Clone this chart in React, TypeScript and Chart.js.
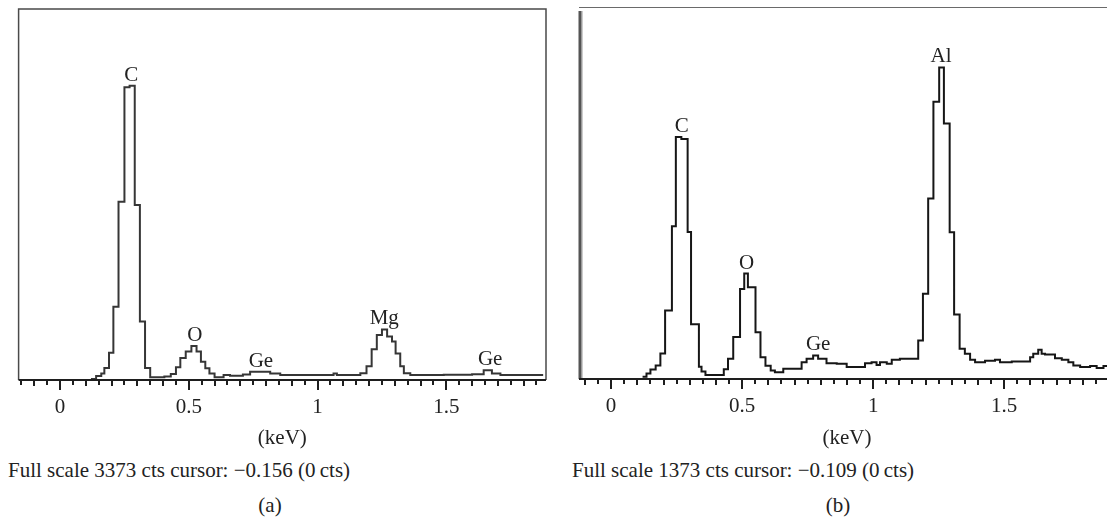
import React, { useEffect, useRef } from 'react';
import { Chart, registerables } from 'chart.js';

Chart.register(...registerables);

const FONT = '"Liberation Serif", "Times New Roman", serif';
const TEXT = '#222';
const FS = 21;

// Panel (a): energy (keV) where each step starts, counts of that step
const energiesA = [
  0.12, 0.14, 0.16, 0.172, 0.19, 0.207, 0.227, 0.25, 0.27, 0.29, 0.31, 0.33, 0.35, 0.405,
  0.43, 0.45, 0.467, 0.488, 0.51, 0.53, 0.547, 0.564, 0.58, 0.6, 0.635, 0.66, 0.71, 0.738,
  0.816, 0.855, 1.062, 1.075, 1.166, 1.19, 1.21, 1.23, 1.25, 1.27, 1.289, 1.303, 1.321,
  1.335, 1.36, 1.49, 1.6, 1.645, 1.677, 1.71, 1.876,
];
const countsA = [
  10, 36, 60, 108, 248, 667, 1620, 2662, 2675, 1592, 532, 110, 26, 32,
  55, 115, 200, 260, 310, 260, 167, 106, 58, 24, 45, 38, 50, 75,
  60, 45, 58, 45, 62, 125, 280, 410, 460, 395, 350, 240, 125,
  62, 45, 48, 52, 88, 60, 45, 45,
];

// Panel (b)
const energiesB = [
  0.12, 0.135, 0.15, 0.17, 0.188, 0.206, 0.232, 0.247, 0.268, 0.292, 0.305, 0.335, 0.345,
  0.36, 0.43, 0.446, 0.466, 0.492, 0.508, 0.522, 0.551, 0.57, 0.589, 0.609, 0.625, 0.657,
  0.727, 0.746, 0.771, 0.79, 0.822, 0.861, 0.899, 0.969, 0.994, 1.013, 1.026, 1.052, 1.071,
  1.102, 1.172, 1.19, 1.21, 1.23, 1.252, 1.27, 1.292, 1.309, 1.33, 1.35, 1.37, 1.389, 1.427,
  1.465, 1.484, 1.529, 1.599, 1.611, 1.63, 1.643, 1.656, 1.694, 1.72, 1.745, 1.764, 1.79,
  1.828, 1.853, 1.879, 1.93,
];
const countsB = [
  8, 20, 35, 50, 94, 253, 564, 893, 886, 543, 202, 45, 28,
  15, 36, 75, 155, 332, 389, 339, 173, 80, 49, 31, 25, 38,
  62, 75, 87, 75, 58, 56, 44, 58, 62, 52, 62, 56, 71,
  75, 142, 315, 666, 1023, 1150, 943, 542, 238, 112, 93, 71, 62, 67,
  71, 62, 65, 80, 93, 108, 93, 90, 77, 71, 62, 50, 44,
  48, 41, 48, 48,
];

const fullScaleA = 3373;
const fullScaleB = 1373;

const tickValues = [0, 0.5, 1, 1.5];
const tickLabels = ['0', '0.5', '1', '1.5'];

const peakLabelsA = ['C', 'O', 'Ge', 'Mg', 'Ge'];
const peakEnergiesA = [0.276, 0.523, 0.78, 1.259, 1.67];
const peakLabelsB = ['C', 'O', 'Ge', 'Al'];
const peakEnergiesB = [0.27, 0.517, 0.79, 1.259];

type Area = { left: number; top: number; right: number; bottom: number };

type PanelProps = {
  energies: number[];
  counts: number[];
  fullScale: number;
  xMin: number;
  xMax: number;
  labels: string[];
  labelEnergies: number[];
  frame: 'box' | 'open';
  lineColor: string;
  left: number;
  width: number;
  height: number;
  area: Area;
};

function Panel(p: PanelProps) {
  const ref = useRef<HTMLCanvasElement | null>(null);

  useEffect(() => {
    const canvas = ref.current;
    if (!canvas) return;

    const framePlugin = {
      id: 'specFrame',
      beforeDatasetsDraw(chart: any) {
        const { ctx, chartArea: a } = chart;
        ctx.save();
        if (p.frame === 'box') {
          ctx.strokeStyle = '#4a4a4a';
          ctx.lineWidth = 1.5;
          ctx.beginPath();
          ctx.moveTo(a.left, a.bottom);
          ctx.lineTo(a.left, a.top);
          ctx.lineTo(a.right, a.top);
          ctx.lineTo(a.right, a.bottom);
          ctx.stroke();
        } else {
          ctx.strokeStyle = '#6a6a6a';
          ctx.lineWidth = 1;
          ctx.beginPath();
          ctx.moveTo(a.left, a.top + 0.5);
          ctx.lineTo(a.right, a.top + 0.5);
          ctx.stroke();
          ctx.fillStyle = '#555';
          ctx.fillRect(a.left - 0.5, a.top + 4, 2.5, a.bottom - a.top - 4);
          ctx.fillStyle = '#9a9a9a';
          ctx.fillRect(a.left + 2, a.top + 4, 1.5, a.bottom - a.top - 4);
        }
        ctx.restore();
      },
      afterDatasetsDraw(chart: any) {
        const { ctx, chartArea: a, scales } = chart;
        const xs = scales.x;
        const ys = scales.y;
        ctx.save();
        ctx.strokeStyle = '#1e1e1e';
        ctx.lineWidth = 2;
        ctx.beginPath();
        ctx.moveTo(a.left, a.bottom);
        ctx.lineTo(a.right, a.bottom);
        ctx.stroke();
        const k0 = Math.ceil(xs.min * 20);
        const k1 = Math.floor(xs.max * 20);
        ctx.lineWidth = 2;
        for (let k = k0; k <= k1; k++) {
          const px = Math.round(xs.getPixelForValue(k / 20));
          const len = k % 10 === 0 ? 10 : k % 2 === 0 ? 6 : 5;
          ctx.beginPath();
          ctx.moveTo(px, a.bottom);
          ctx.lineTo(px, a.bottom + len);
          ctx.stroke();
        }
        ctx.fillStyle = TEXT;
        ctx.font = `${FS}px ${FONT}`;
        ctx.textAlign = 'center';
        ctx.textBaseline = 'alphabetic';
        const w = 0.035;
        p.labels.forEach((lab, i) => {
          const e = p.labelEnergies[i];
          let m = 0;
          for (let j = 0; j < p.energies.length - 1; j++) {
            if (p.energies[j] < e + w && p.energies[j + 1] > e - w) m = Math.max(m, p.counts[j]);
          }
          const y = ys.getPixelForValue(m) - 5;
          ctx.fillText(lab, xs.getPixelForValue(e), y);
        });
        ctx.restore();
      },
    };

    const chart = new Chart(canvas, {
      type: 'line',
      data: {
        datasets: [
          {
            data: p.energies.map((e, i) => ({ x: e, y: p.counts[i] })),
            stepped: 'before',
            borderColor: p.lineColor,
            borderWidth: 2,
            pointRadius: 0,
            fill: false,
          } as any,
        ],
      },
      options: {
        animation: false,
        responsive: false,
        events: [],
        layout: {
          padding: { left: p.area.left, top: p.area.top, right: p.width - p.area.right, bottom: 0 },
        },
        plugins: { legend: { display: false }, tooltip: { enabled: false } },
        scales: {
          x: {
            type: 'linear',
            min: p.xMin,
            max: p.xMax,
            afterBuildTicks: (s: any) => {
              s.ticks = tickValues.map((v) => ({ value: v }));
            },
            afterFit: (s: any) => {
              s.height = p.height - p.area.bottom;
            },
            ticks: {
              callback: (_v: any, i: number) => tickLabels[i] ?? '',
              font: { family: FONT, size: FS },
              color: TEXT,
              padding: 15,
              maxRotation: 0,
              autoSkip: false,
            },
            grid: { display: false, drawTicks: false },
            border: { display: false },
            title: {
              display: true,
              text: '(keV)',
              font: { family: FONT, size: FS },
              color: TEXT,
              padding: { top: 0, bottom: 0 },
            },
          },
          y: { display: false, min: 0, max: p.fullScale },
        },
      } as any,
      plugins: [framePlugin],
    });
    return () => chart.destroy();
  }, []);

  return (
    <canvas
      ref={ref}
      width={p.width}
      height={p.height}
      style={{ position: 'absolute', left: p.left, top: 0, width: p.width, height: p.height }}
    />
  );
}

const textStyle: React.CSSProperties = {
  position: 'absolute',
  fontFamily: FONT,
  fontSize: FS,
  lineHeight: '24px',
  color: TEXT,
  whiteSpace: 'nowrap',
};

export default function App() {
  return (
    <div
      style={{
        position: 'fixed',
        left: 0,
        top: 0,
        width: 1107,
        height: 522,
        overflow: 'hidden',
        background: '#fff',
      }}
    >
      <Panel
        energies={energiesA}
        counts={countsA}
        fullScale={fullScaleA}
        xMin={-0.161}
        xMax={1.887}
        labels={peakLabelsA}
        labelEnergies={peakEnergiesA}
        frame="box"
        lineColor="#363636"
        left={0}
        width={560}
        height={451}
        area={{ left: 18.6, top: 9, right: 546, bottom: 380 }}
      />
      <Panel
        energies={energiesB}
        counts={countsB}
        fullScale={fullScaleB}
        xMin={-0.1226}
        xMax={1.923}
        labels={peakLabelsB}
        labelEnergies={peakEnergiesB}
        frame="open"
        lineColor="#161616"
        left={560}
        width={560}
        height={451}
        area={{ left: 19, top: 7, right: 555, bottom: 379 }}
      />
      <div style={{ ...textStyle, left: 8, top: 458 }}>Full scale 3373 cts cursor: −0.156 (0&#8201;cts)</div>
      <div style={{ ...textStyle, left: 572, top: 458 }}>Full scale 1373 cts cursor: −0.109 (0&#8201;cts)</div>
      <div style={{ ...textStyle, left: 250, width: 40, textAlign: 'center', top: 493 }}>(a)</div>
      <div style={{ ...textStyle, left: 818, width: 40, textAlign: 'center', top: 493 }}>(b)</div>
    </div>
  );
}
